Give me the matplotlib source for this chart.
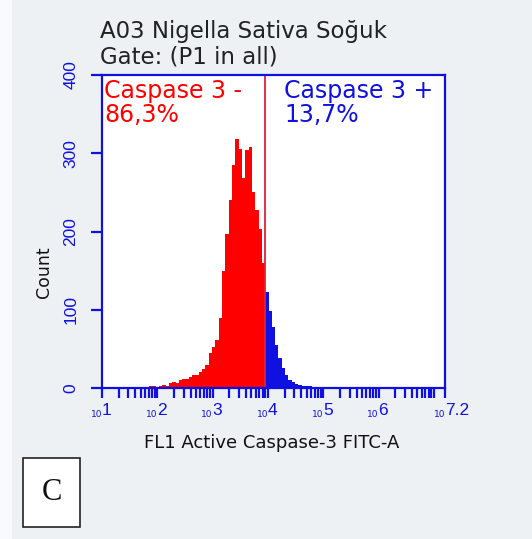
import matplotlib
matplotlib.use("Agg")
from matplotlib import pyplot as plt
from matplotlib.patches import Rectangle
import numpy as np

# histogram of FL1 (log10 channel), bins 0.06 decades wide starting at 10^1.85
bin_start = 1.85
bin_width = 0.06
counts = [2, 2, 1, 3, 4, 3, 6, 8, 7, 10,
          12, 11, 14, 16, 17, 20, 24, 30, 45, 52,
          61, 90, 150, 197, 240, 285, 318, 305, 268, 304,
          308, 250, 228, 203, 160,
          123, 98, 78, 55, 38, 25, 16, 10, 8, 5,
          4, 3, 2, 2, 1, 1]
gate = 3.95  # log10 position of the Caspase 3 -/+ marker

title_lines = ["A03 Nigella Sativa Soğuk", "Gate: (P1 in all)"]
neg_label, neg_pct = "Caspase 3 -", "86,3%"
pos_label, pos_pct = "Caspase 3 +", "13,7%"
y_ticks = [0, 100, 200, 300, 400]
x_decades = [1, 2, 3, 4, 5, 6, 7]
x_labels = ["1", "2", "3", "4", "5", "6", "7.2"]
x_max = 7.2

BLUE = "#1010e0"
RED = "#ff0000"
BG = "#edf1f4"

W, H = 532, 539
fig = plt.figure(figsize=(W / 100, H / 100), dpi=100)
fig.patch.set_facecolor(BG)
# white strip on the left edge
fig.add_artist(Rectangle((0, 0), 12 / W, 1, transform=fig.transFigure,
                         facecolor="#f9fafb", edgecolor="none", zorder=0))

ax = fig.add_axes([102 / W, 1 - 388 / H, 343 / W, 313 / H])
ax.set_facecolor("white")
ax.set_xscale("log")
ax.set_xlim(10 ** 1, 10 ** x_max)
ax.set_ylim(0, 400)

edges = bin_start + bin_width * np.arange(len(counts) + 1)
counts = np.array(counts)
n_neg = int(round((gate - bin_start) / bin_width))
ax.stairs(counts[:n_neg], 10 ** edges[:n_neg + 1], fill=True, color=RED, lw=0)
ax.stairs(counts[n_neg:], 10 ** edges[n_neg:], fill=True, color=BLUE, lw=0)
ax.axvline(10 ** gate, color="#e0203a", lw=1.3)

for s in ax.spines.values():
    s.set_color(BLUE)
    s.set_linewidth(1.6)

ax.set_yticks(y_ticks)
ax.set_yticklabels([str(v) for v in y_ticks], rotation=90, va="center",
                   color=BLUE, fontsize=12.5, family="Liberation Sans")
ax.tick_params(axis="y", direction="out", length=8, width=1.6, color=BLUE, pad=9)

major = [10.0 ** d for d in x_decades] + [10 ** x_max]
minor = [m * 10.0 ** d for d in x_decades for m in range(2, 10) if np.log10(m) + d < x_max]
ax.set_xticks(major)
ax.set_xticks(minor, minor=True)
ax.set_xticklabels([])
ax.set_xticklabels([], minor=True)
ax.tick_params(axis="x", which="both", direction="out", length=7, width=1.6, color=BLUE)

# decade labels: small "10" followed by a larger exponent (no label at 10^7)
label_pos = [1, 2, 3, 4, 5, 6, x_max]
for d, exp in zip(label_pos, x_labels):
    ax.annotate("10", xy=(10 ** d, 0), xycoords=("data", "axes fraction"),
                xytext=(0, -21), textcoords="offset points", ha="right", va="baseline",
                color=BLUE, fontsize=6.5, family="DejaVu Sans")
    ax.annotate(exp, xy=(10 ** d, 0), xycoords=("data", "axes fraction"),
                xytext=(0, -19.5), textcoords="offset points", ha="left", va="baseline",
                color=BLUE, fontsize=12.5, family="Liberation Sans")

fig.text(272 / W, 1 - 448 / H, "FL1 Active Caspase-3 FITC-A", ha="center",
         va="baseline", fontsize=13, color="#111111", family="DejaVu Sans")
fig.text(44 / W, 1 - 272 / H, "Count", rotation=90, ha="center", va="center",
         fontsize=12.5, color="#111111", family="DejaVu Sans")

fig.text(100 / W, 1 - 38 / H, title_lines[0], ha="left", va="baseline",
         fontsize=16.5, color="#222222", family="DejaVu Sans")
fig.text(100 / W, 1 - 63 / H, title_lines[1], ha="left", va="baseline",
         fontsize=16.5, color="#222222", family="DejaVu Sans")

fig.text(104 / W, 1 - 98 / H, neg_label, ha="left", va="baseline",
         fontsize=17, color=RED, family="DejaVu Sans")
fig.text(104 / W, 1 - 122 / H, neg_pct, ha="left", va="baseline",
         fontsize=17, color=RED, family="DejaVu Sans")
fig.text(284 / W, 1 - 98 / H, pos_label, ha="left", va="baseline",
         fontsize=17, color=BLUE, family="DejaVu Sans")
fig.text(284 / W, 1 - 122 / H, pos_pct, ha="left", va="baseline",
         fontsize=17, color=BLUE, family="DejaVu Sans")

# panel letter box
fig.add_artist(Rectangle((23 / W, 1 - 527 / H), 57 / W, 69 / H, transform=fig.transFigure,
                         facecolor="white", edgecolor="#222222", lw=1.2))
fig.text(51.5 / W, 1 - 492 / H, "C", ha="center", va="center",
         fontsize=22, family="Liberation Serif", color="#111111")

fig.savefig("out.png", dpi=100, facecolor=BG)
